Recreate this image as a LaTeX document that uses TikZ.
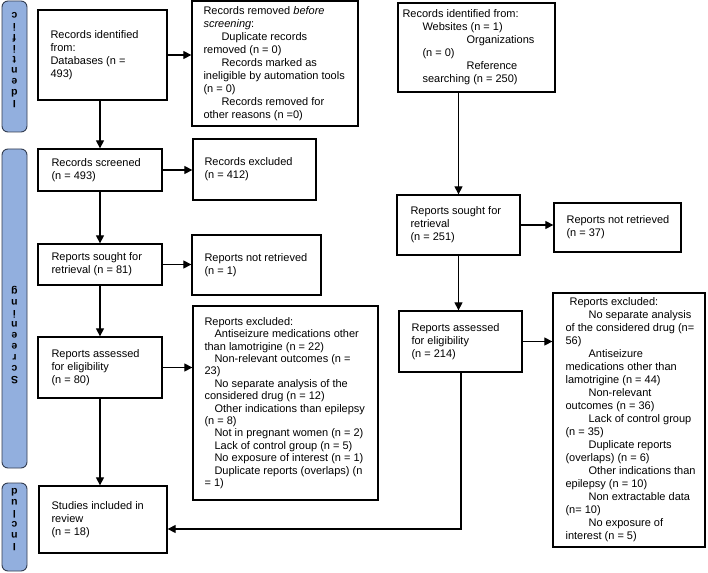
\documentclass[tikz,border=0pt]{standalone}
\usepackage{fontspec}
\setmainfont{Liberation Sans}
\usetikzlibrary{arrows.meta}
\definecolor{phaseblue}{RGB}{146,175,222}
\definecolor{phaseline}{RGB}{50,60,80}

\begin{document}
\begin{tikzpicture}[x=1pt, y=-1pt,
    box/.style={draw=black, line width=1.3pt, inner sep=0pt},
    txt/.style={anchor=west, align=left, inner sep=0pt, font=\fontsize{11}{13}\selectfont},
    phase/.style={draw=phaseline, line width=0.9pt, fill=phaseblue, rounded corners=6pt},
    phasetxt/.style={rotate=180, align=center, inner sep=0pt, font=\fontsize{10.5}{11}\selectfont\bfseries},
    arr/.style={line width=1.2pt, -{Triangle[length=8pt,width=8pt]}}]
    \useasboundingbox (0,0) rectangle (708,572);

    % phases
    \draw[phase] (2,1) rectangle (27,132);
    \draw[phase] (2,149) rectangle (27,468);
    \draw[phase] (2,483) rectangle (27,571);
    \node[phasetxt] (idph) at (14.5,60) {I\\d\\e\\n\\t\\i\\f\\i\\c};
    \node[phasetxt] (scph) at (14.5,335) {S\\c\\r\\e\\e\\n\\i\\n\\g};
    \node[phasetxt] (inph) at (14.5,520) {I\\n\\c\\l\\u\\d};

    % left column
    \node[box, minimum width=129pt, minimum height=90pt] (dbrec) at (102.5,55) {};
    \node[txt] (dbrec-t) at ([xshift=13pt]dbrec.west) {Records identified\\from:\\Databases (n =\\493)};
    \node[box, minimum width=166pt, minimum height=125pt] (removed) at (275,63.5) {};
    \node[txt] (removed-t) at ([xshift=12pt]removed.west) {Records removed \textit{before}\\\textit{screening}:\\\hspace*{18pt}Duplicate records\\removed (n = 0)\\\hspace*{18pt}Records marked as\\ineligible by automation tools\\(n = 0)\\\hspace*{18pt}Records removed for\\other reasons (n =0)};

    \node[box, minimum width=124pt, minimum height=42pt] (screened) at (100,170) {};
    \node[txt] (screened-t) at ([xshift=14pt]screened.west) {Records screened\\(n = 493)};
    \node[box, minimum width=123pt, minimum height=61pt] (excluded) at (254.5,169.5) {};
    \node[txt] (excluded-t) at ([xshift=12pt]excluded.west) {Records excluded\\(n = 412)};

    \node[box, minimum width=124pt, minimum height=41pt] (soughtL) at (100,264.5) {};
    \node[txt] (soughtL-t) at ([xshift=14pt]soughtL.west) {Reports sought for\\retrieval (n = 81)};
    \node[box, minimum width=129pt, minimum height=60pt] (notretL) at (256.5,265) {};
    \node[txt] (notretL-t) at ([xshift=13pt]notretL.west) {Reports not retrieved\\(n = 1)};

    \node[box, minimum width=124pt, minimum height=61pt] (assessedL) at (100,367.5) {};
    \node[txt] (assessedL-t) at ([xshift=14pt]assessedL.west) {Reports assessed\\for eligibility\\(n = 80)};
    \node[box, minimum width=185pt, minimum height=194pt] (exclL) at (285.5,403) {};
    \node[txt, font=\fontsize{11}{12.4}\selectfont] (exclL-t) at ([xshift=12pt]exclL.west) {Reports excluded:\\\hspace*{10pt}Antiseizure medications other\\than lamotrigine (n = 22)\\\hspace*{10pt}Non-relevant outcomes (n =\\23)\\\hspace*{10pt}No separate analysis of the\\considered drug (n = 12)\\\hspace*{10pt}Other indications than epilepsy\\(n = 8)\\\hspace*{10pt}Not in pregnant women (n = 2)\\\hspace*{10pt}Lack of control group (n = 5)\\\hspace*{10pt}No exposure of interest (n = 1)\\\hspace*{10pt}Duplicate reports (overlaps) (n\\= 1)};

    \node[box, minimum width=128pt, minimum height=67pt] (included) at (103,519.5) {};
    \node[txt] (included-t) at ([xshift=13pt]included.west) {Studies included in\\review\\(n = 18)};

    % right column
    \node[box, minimum width=157pt, minimum height=89pt] (otherrec) at (476.5,47.5) {};
    \node[txt] (otherrec-t) at ([xshift=5pt]otherrec.west) {Records identified from:\\\hspace*{20pt}Websites (n = 1)\\\hspace*{64pt}Organizations\\\hspace*{20pt}(n = 0)\\\hspace*{64pt}Reference\\\hspace*{20pt}searching (n = 250)};

    \node[box, minimum width=123pt, minimum height=60pt] (soughtR) at (458.5,225) {};
    \node[txt] (soughtR-t) at ([xshift=14pt]soughtR.west) {Reports sought for\\retrieval\\(n = 251)};
    \node[box, minimum width=127pt, minimum height=49pt] (notretR) at (617.5,227.5) {};
    \node[txt] (notretR-t) at ([xshift=13pt]notretR.west) {Reports not retrieved\\(n = 37)};

    \node[box, minimum width=123pt, minimum height=61pt] (assessedR) at (460.5,341.5) {};
    \node[txt] (assessedR-t) at ([xshift=13pt]assessedR.west) {Reports assessed\\for eligibility\\(n = 214)};
    \node[box, minimum width=152pt, minimum height=254pt] (exclR) at (629,420) {};
    \node[txt] (exclR-t) at ([xshift=13pt]exclR.west) {\hspace*{4pt}Reports excluded:\\\hspace*{23pt}No separate analysis\\of the considered drug (n=\\56)\\\hspace*{23pt}Antiseizure\\medications other than\\lamotrigine (n = 44)\\\hspace*{23pt}Non-relevant\\outcomes (n = 36)\\\hspace*{23pt}Lack of control group\\(n = 35)\\\hspace*{23pt}Duplicate reports\\(overlaps) (n = 6)\\\hspace*{23pt}Other indications than\\epilepsy (n = 10)\\\hspace*{23pt}Non extractable data\\(n= 10)\\\hspace*{23pt}No exposure of\\interest (n = 5)};

    \coordinate (turn) at (461,529);

    % arrows
    \draw[arr] (dbrec.east) -- (dbrec.east -| removed.west);
    \draw[arr] (screened.north |- dbrec.south) -- (screened.north);
    \draw[arr] (screened.east) -- (screened.east -| excluded.west);
    \draw[arr] (screened.south) -- (soughtL.north);
    \draw[arr] (soughtL.east) -- (soughtL.east -| notretL.west);
    \draw[arr] (soughtL.south) -- (assessedL.north);
    \draw[arr] (assessedL.east) -- (assessedL.east -| exclL.west);
    \draw[arr] (assessedL.south) -- (assessedL.south |- included.north);
    \draw[arr] (soughtR.north |- otherrec.south) -- (soughtR.north);
    \draw[arr] (soughtR.east) -- (soughtR.east -| notretR.west);
    \draw[arr] (soughtR.south) -- (soughtR.south |- assessedR.north);
    \draw[arr] (assessedR.east) -- (assessedR.east -| exclR.west);
    \draw[arr] (assessedR.south -| turn) -- (turn) -- (turn -| included.east);
\end{tikzpicture}
\end{document}
